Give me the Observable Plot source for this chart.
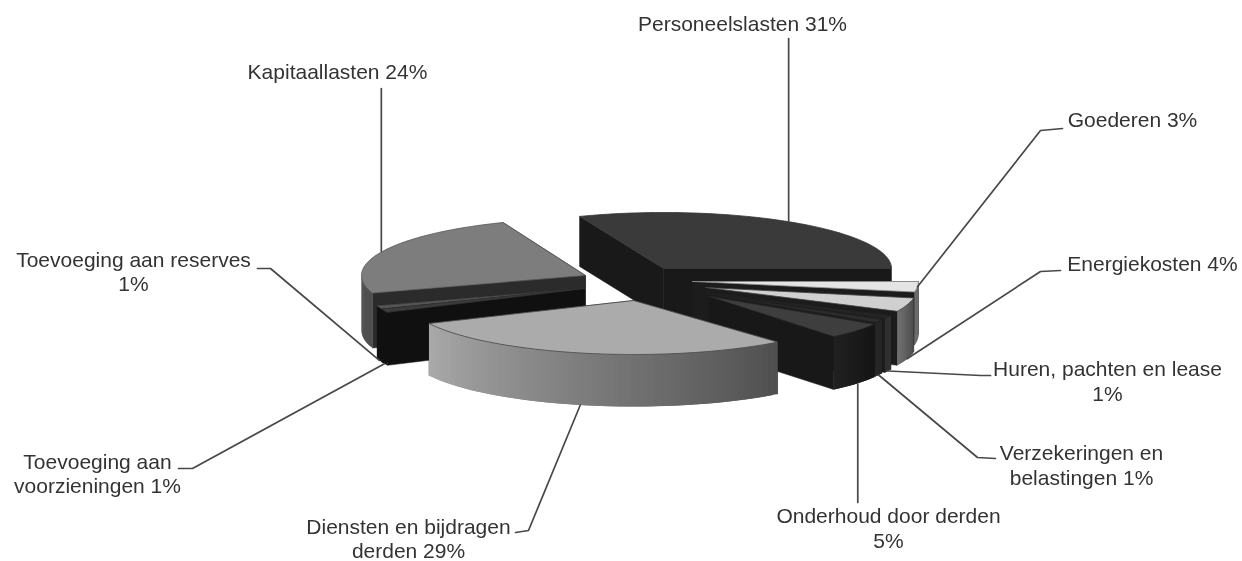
<!DOCTYPE html>
<html><head><meta charset="utf-8">
<style>html,body{margin:0;padding:0;background:#fff}svg{display:block}</style>
<script src="https://cdn.jsdelivr.net/npm/d3@7"></script>
<script src="https://cdn.jsdelivr.net/npm/@observablehq/plot@0.6"></script>
</head><body><div id="chart"></div>
<script>
// ---- data: clockwise from the start of Personeelslasten
const categories = ["Personeelslasten","Goederen","Energiekosten","Huren, pachten en lease","Verzekeringen en belastingen","Onderhoud door derden","Diensten en bijdragen derden","Toevoeging aan voorzieningen","Toevoeging aan reserves","Kapitaallasten"];
const shares = [31,3,4,1,1,5,29,1,1,24];
const labels = ["Personeelslasten 31%","Goederen 3%","Energiekosten 4%","Huren, pachten en lease\n1%","Verzekeringen en\nbelastingen 1%","Onderhoud door derden\n5%","Diensten en bijdragen\nderden 29%","Toevoeging aan\nvoorzieningen 1%","Toevoeging aan reserves\n1%","Kapitaallasten 24%"];

// ---- layout (separate from the data)
const startAngle = 111.6;
const apexX = [663,692,705,705,706,709,633,584,584,585];
const apexY = [268,281,287,292,293,296,300,288,288,275];
const radiusX = [228,226,212,205,200,195,226,218,218,224];
const radiusY = [56,56,56,54,54,52,54,56,56,57];
const depth = [50,53,54,54,54,53,52,53,53,55];
const paintOrder = [0,9,8,7,1,2,3,4,5,6];
const labelX = [742,1132,1152,1107,1081,888,408,97,133,337];
const labelY = [23,119,263,380,464,527,537.5,472.5,270.5,71];
const leaderLevel = [0,0,1,1,1,1,1,1,1,0];
const leaderShift = [-3,0,0,0,0,2,-4,0,0,-1.5];
const leaderBends = [
  [[null,38]],
  [[1040,130],[1062,128]],
  [[1040,271],[1060,270]],
  [[980,375],[990,375]],
  [[977,457],[995,458]],
  [[null,502]],
  [[528,530],[515,532]],
  [[192,468],[178,468]],
  [[270,268],[257,268]],
  [[null,88]]
];
// ---- styles
const topFill = ["#3a3a3a","#e4e4e4","#d0d0d0","#242424","#2c2c2c","#3e3e3e","#ababab","#3c3c3c","#555555","#7d7d7d"];
const topStroke = ["#333333","#8a8a8a","#444444","#222222","#222222","#2a2a2a","#4a4a4a","#333333","#444444","#555555"];
const cutFill = ["#191919","#1c1c1c","#1c1c1c","#1c1c1c","#1c1c1c","#181818","#333333","#101010","#101010","#2b2b2b"];
const outerFrom = ["#333333","#6c6c6c","#4a4a4a","#303030","#262626","#141414","#4f4f4f","#111111","#111111","#4e4e4e"];
const outerTo = ["#333333","#6c6c6c","#707070","#303030","#262626","#202020","#aaaaaa","#111111","#111111","#727272"];

// ---- geometry derived from the shares
const rad = d => d * Math.PI / 180;
let cursor = startAngle;
const slices = shares.map((s, i) => {
  const a0 = cursor, a1 = cursor - s * 3.6; cursor = a1;
  return {i, a0, a1};
});
const pt = (i, a, z = 0) => [apexX[i] + radiusX[i] * Math.cos(rad(a)), apexY[i] - radiusY[i] * Math.sin(rad(a)) + z];
const polygons = [];
let pid = 0;
function addPoly(verts, fill, stroke, sw) {
  const id = pid++;
  [...verts, verts[0]].forEach(([x, y]) => polygons.push({id, x, y, fill, stroke, sw}));
}
for (const k of paintOrder) {
  const {i, a0, a1} = slices[k];
  const h = depth[i];
  const apex = [apexX[i], apexY[i]];
  for (const a of [a0, a1]) {
    const e = pt(i, a);
    addPoly([apex, e, pt(i, a, h), [apex[0], apex[1] + h]], cutFill[i], cutFill[i], 0.5);
  }
  const n = Math.max(2, Math.ceil((a0 - a1) / 1.5));
  const mix = d3.interpolateRgb(outerFrom[i], outerTo[i]);
  for (let j = 0; j < n; j++) {
    const u = a0 + (a1 - a0) * j / n, v = a0 + (a1 - a0) * Math.min(n, j + 2) / n;
    if (Math.sin(rad(u + (a1 - a0) * .5 / n)) >= 0) continue;
    const c = mix((j + .5) / n);
    addPoly([pt(i, u), pt(i, v), pt(i, v, h), pt(i, u, h)], c, c, 0);
  }
  const arc = [];
  for (let j = 0; j <= n; j++) arc.push(pt(i, a0 + (a1 - a0) * j / n));
  addPoly([apex, ...arc], topFill[i], topStroke[i], 0.8);
}
const leaders = [];
slices.forEach(({i, a0, a1}) => {
  const p = pt(i, (a0 + a1) / 2, leaderLevel[i] * depth[i]);
  const start = [p[0] + leaderShift[i], p[1]];
  [start, ...leaderBends[i].map(([x, y]) => [x ?? start[0], y])].forEach(([x, y]) => leaders.push({i, x, y}));
});
const labelRows = labels.map((text, i) => ({text, x: labelX[i], y: labelY[i], name: categories[i]}));

const chart = Plot.plot({
  width: 1242, height: 561, margin: 0,
  x: {domain: [0, 1242], range: [0, 1242], axis: null},
  y: {domain: [0, 561], range: [0, 561], axis: null},
  style: {background: "#fff", fontFamily: "'Liberation Sans', Arial, sans-serif", filter: "blur(0.55px)"},
  marks: [
    Plot.line(polygons, {x: "x", y: "y", z: "id", fill: "fill", stroke: "stroke", strokeWidth: "sw", curve: "linear"}),
    Plot.line(leaders, {x: "x", y: "y", z: "i", stroke: "#484848", strokeWidth: 1.7, curve: "linear"}),
    Plot.text(labelRows, {x: "x", y: "y", text: "text", fontSize: 21, fill: "#333", lineHeight: 1.17, lineAnchor: "middle", textAnchor: "middle"})
  ]
});
document.getElementById("chart").append(chart);
</script></body></html>
